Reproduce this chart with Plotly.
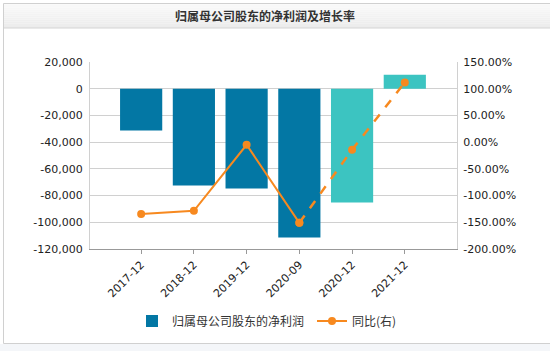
import plotly.graph_objects as go

categories = ["2017-12", "2018-12", "2019-12", "2020-09", "2020-12", "2021-12"]
net_profit = [-31200, -72400, -74700, -111400, -85200, 10500]
bar_colors = ["#0377a4", "#0377a4", "#0377a4", "#0377a4", "#3cc4c1", "#3cc4c1"]
yoy_pct = [-134.6, -128.5, -4.9, -151.0, -14.2, 111.8]
solid_idx = [0, 1, 2, 3]
dash_idx = [3, 4, 5]

left_ticks = [20000, 0, -20000, -40000, -60000, -80000, -100000, -120000]
left_text = ["20,000", "0", "-20,000", "-40,000", "-60,000", "-80,000", "-100,000", "-120,000"]
right_ticks = [150, 100, 50, 0, -50, -100, -150, -200]
right_text = ["150.00%", "100.00%", "50.00%", "0.00%", "-50.00%", "-100.00%", "-150.00%", "-200.00%"]

W, H = 550, 351
L, R, T, B = 90, 457, 62, 249

def px(x):
    return (x - L) / (R - L)

def py(y):
    return (B - y) / (B - T)

orange = "#f7891f"
tickfont = dict(family="DejaVu Sans", size=11, color="#222")

fig = go.Figure()
fig.add_trace(go.Bar(
    x=categories, y=net_profit, marker=dict(color=bar_colors, line=dict(width=0)),
    width=0.8, name="归属母公司股东的净利润", yaxis="y",
))
fig.add_trace(go.Scatter(
    x=[categories[i] for i in solid_idx], y=[yoy_pct[i] for i in solid_idx],
    mode="lines+markers", line=dict(color=orange, width=2),
    marker=dict(size=8, color=orange), name="同比(右)", yaxis="y2",
))
fig.add_trace(go.Scatter(
    x=[categories[i] for i in dash_idx], y=[yoy_pct[i] for i in dash_idx],
    mode="lines+markers", line=dict(color=orange, width=2.5, dash="dash"),
    marker=dict(size=8, color=orange), showlegend=False, yaxis="y2",
))

shapes = []
band_top, band_bot = 3, 28
n = 12
for i in range(n):
    y0 = band_top + (band_bot - band_top) * i / n
    y1 = band_top + (band_bot - band_top) * (i + 1) / n
    c = int(250 - 14 * i / (n - 1))
    shapes.append(dict(type="rect", xref="paper", yref="paper", x0=px(3), x1=px(552),
                       y0=py(y1), y1=py(y0), fillcolor=f"rgb({c},{c},{c})",
                       line=dict(width=0), layer="below"))
shapes.append(dict(type="line", xref="paper", yref="paper", x0=px(3), x1=px(552),
                   y0=py(28), y1=py(28), line=dict(color="#d4d4d4", width=1)))
shapes.append(dict(type="rect", xref="paper", yref="paper", x0=px(0), x1=px(552),
                   y0=py(352), y1=py(344), fillcolor="#f4f6f9", line=dict(width=0), layer="below"))
shapes.append(dict(type="rect", xref="paper", yref="paper", x0=px(3.5), x1=px(553),
                   y0=py(343.5), y1=py(3.5), line=dict(color="#d0d0d0", width=1)))

fig.update_layout(
    width=W, height=H,
    margin=dict(l=L, r=W - R, t=T, b=H - B, pad=0, autoexpand=False),
    paper_bgcolor="white", plot_bgcolor="white",
    showlegend=True,
    legend=dict(orientation="h", xref="container", yref="container",
                x=132 / W, xanchor="left", y=(H - 321) / H, yanchor="middle",
                font=dict(family="Noto Sans CJK SC", size=12, color="#333"),
                itemwidth=30, entrywidth=135, tracegroupgap=0),
    xaxis=dict(type="category", range=[-0.97, 5.99], tickangle=-45,
               tickfont=tickfont, ticks="outside", ticklen=4, tickcolor="#999",
               showline=True, linecolor="#999", linewidth=1, showgrid=False),
    yaxis=dict(range=[-120000, 20000], tickvals=left_ticks, ticktext=left_text,
               tickfont=tickfont, showgrid=True, gridcolor="#d0d0d0", gridwidth=1,
               showline=True, linecolor="#d0d0d0", zeroline=False, ticks="",
               ticklabelstandoff=4),
    yaxis2=dict(range=[-200, 150], tickvals=right_ticks, ticktext=right_text,
                tickfont=tickfont, overlaying="y", side="right", showgrid=False,
                showline=True, linecolor="#d0d0d0", zeroline=False, ticks="",
                ticklabelstandoff=3),
    shapes=shapes,
    annotations=[dict(text="<b>归属母公司股东的净利润及增长率</b>", xref="paper", yref="paper",
                      x=px(265), y=py(15.5), showarrow=False, xanchor="center", yanchor="middle",
                      font=dict(family="Noto Sans CJK SC", size=12, color="#333"))],
    bargap=0.2,
)

fig.write_html("out.html")
